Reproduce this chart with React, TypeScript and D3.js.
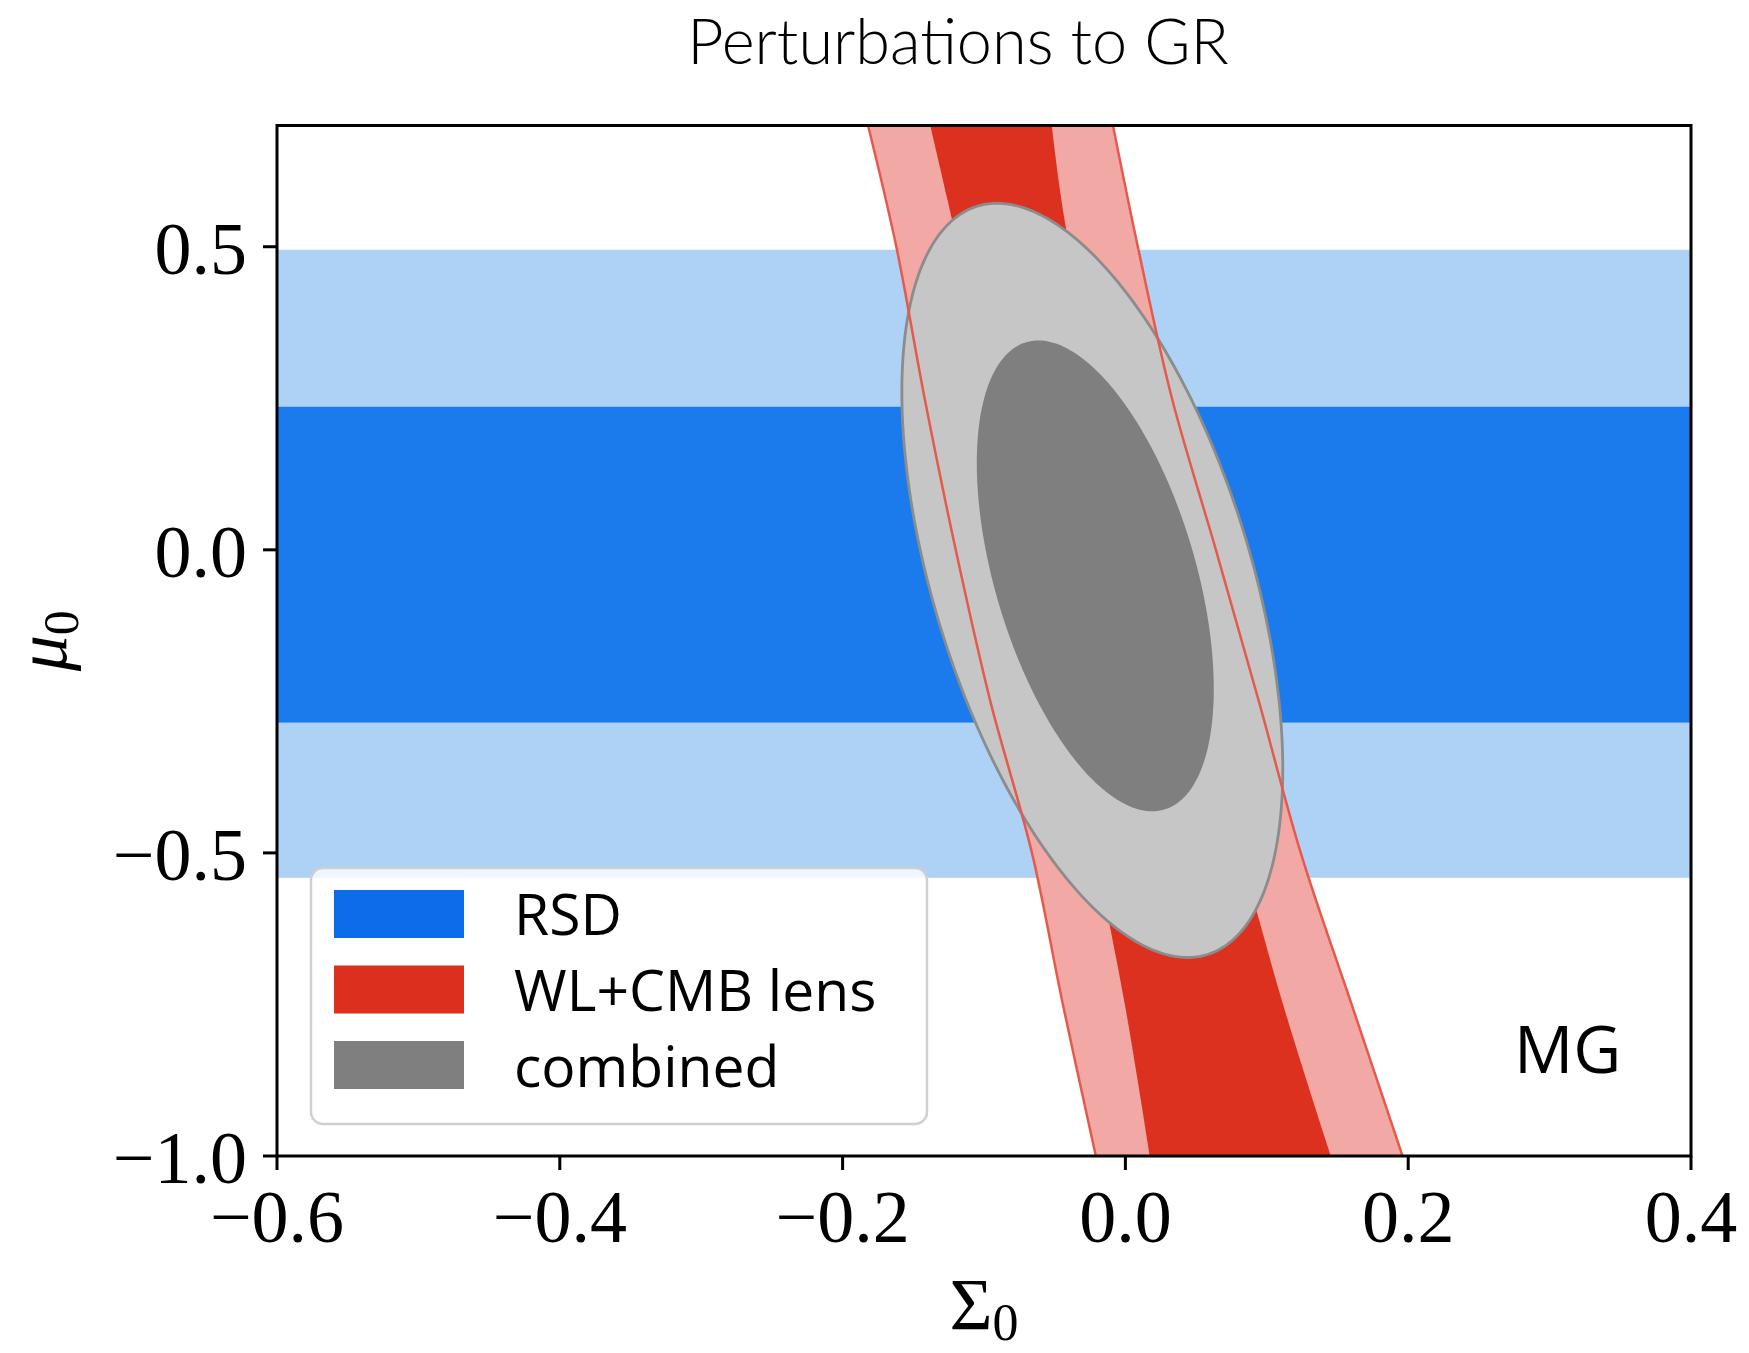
import React from "react";
import * as d3 from "d3";

const W = 1749;
const H = 1353;

// Axis ticks
const xTicks = [-0.6, -0.4, -0.2, 0.0, 0.2, 0.4];
const yTicks = [-1.0, -0.5, 0.0, 0.5];

// RSD constraint on mu0 (flat in Sigma0): 68% and 95% intervals
const rsdInner = [-0.285, 0.236];
const rsdOuter = [-0.541, 0.495];

// WL+CMB lens contours: Sigma0 of each contour edge at given mu0 levels
const lensMu = [0.7, 0.5, 0.25, 0.0, -0.25, -0.5, -0.75, -1.0];
const lensOuterLeft = [-0.182, -0.162, -0.142, -0.12, -0.0955, -0.0661, -0.0442, -0.0209];
const lensOuterRight = [-0.0088, 0.0088, 0.0329, 0.064, 0.0944, 0.124, 0.16, 0.196];
const lensInnerLeft = [-0.138, -0.118, -0.093, -0.0696, -0.0456, -0.0216, -0.0004, 0.0173];
const lensInnerRight = [-0.052, -0.0393, -0.0081, 0.0216, 0.0513, 0.0815, 0.1115, 0.1453];

// Combined constraint: Gaussian contours (centre, widths, correlation)
const combOuter = { cx: -0.0234, cy: -0.0504, sx: 0.1347, sy: 0.6221, rho: -0.5 };
const combInner = { cx: -0.0213, cy: -0.043, sx: 0.0838, sy: 0.3883, rho: -0.48 };

const legendItems = [
  { label: "RSD", color: "#0b6dea" },
  { label: "WL+CMB lens", color: "#dc2f1d" },
  { label: "combined", color: "#7f7f7f" },
];

const C = {
  blueLight: "#aed1f6",
  blueDark: "#1c7bec",
  pink: "#f2a8a4",
  redDark: "#dd311f",
  redLine: "#e45a4c",
  grayLight: "#c6c6c6",
  grayEdge: "#8c8c8c",
  grayDark: "#7f7f7f",
};

const fmt = (v: number) => (v < 0 ? "\u2212" : "") + Math.abs(v).toFixed(1);

function ellipsePoints(e: { cx: number; cy: number; sx: number; sy: number; rho: number }) {
  const n = 240;
  const k = Math.sqrt(1 - e.rho * e.rho);
  return d3.range(n).map((i) => {
    const t = (2 * Math.PI * i) / n;
    return [e.cx + e.sx * Math.cos(t), e.cy + e.sy * (e.rho * Math.cos(t) + k * Math.sin(t))] as [number, number];
  });
}

export default function App() {
  const left = 277;
  const right = 1691;
  const top = 125.5;
  const bottom = 1156;
  const x = d3.scaleLinear().domain([-0.6, 0.4]).range([left, right]);
  const y = d3.scaleLinear().domain([-1.0, 0.7]).range([bottom, top]);

  const idx = d3.range(lensMu.length);
  const bandArea = (l: number[], r: number[]) =>
    d3
      .area<number>()
      .curve(d3.curveCatmullRom.alpha(0.5))
      .y((i) => y(lensMu[i]))
      .x0((i) => x(l[i]))
      .x1((i) => x(r[i]))(idx) || "";
  const edgeLine = (l: number[]) =>
    d3
      .line<number>()
      .curve(d3.curveCatmullRom.alpha(0.5))
      .x((i) => x(l[i]))
      .y((i) => y(lensMu[i]))(idx) || "";
  const ellipsePath = (e: typeof combOuter) =>
    d3
      .line<[number, number]>()
      .curve(d3.curveLinearClosed)
      .x((d) => x(d[0]))
      .y((d) => y(d[1]))(ellipsePoints(e)) || "";

  const serif = "'Liberation Serif', 'Times New Roman', serif";
  const sans = "'Open Sans', 'Noto Sans', sans-serif";

  return (
    <svg
      width={W}
      height={H}
      viewBox={`0 0 ${W} ${H}`}
      style={{ position: "absolute", left: 0, top: 0, background: "#fff" }}
    >
      <defs>
        <clipPath id="plot-clip">
          <rect x={left} y={top} width={right - left} height={bottom - top} />
        </clipPath>
      </defs>

      <text x={958} y={64} textAnchor="middle" fontFamily="Lato, sans-serif" fontWeight={300} fontSize={63} fill="#000">
        Perturbations to GR
      </text>

      <g clipPath="url(#plot-clip)">
        <rect x={left} y={top} width={right - left} height={bottom - top} fill="#fff" />
        {/* RSD bands */}
        <rect
          x={left}
          width={right - left}
          y={y(rsdOuter[1])}
          height={y(rsdOuter[0]) - y(rsdOuter[1])}
          fill={C.blueLight}
        />
        <rect
          x={left}
          width={right - left}
          y={y(rsdInner[1])}
          height={y(rsdInner[0]) - y(rsdInner[1])}
          fill={C.blueDark}
        />
        {/* WL+CMB lens band */}
        <path d={bandArea(lensOuterLeft, lensOuterRight)} fill={C.pink} />
        <path d={bandArea(lensInnerLeft, lensInnerRight)} fill={C.redDark} />
        {/* combined */}
        <path d={ellipsePath(combOuter)} fill={C.grayLight} stroke={C.grayEdge} strokeWidth={2.8} />
        <path d={ellipsePath(combInner)} fill={C.grayDark} />
        {/* lens outer contour lines */}
        <path d={edgeLine(lensOuterLeft)} fill="none" stroke={C.redLine} strokeWidth={2.5} />
        <path d={edgeLine(lensOuterRight)} fill="none" stroke={C.redLine} strokeWidth={2.5} />

        {/* legend */}
        <rect x={311} y={868} width={616} height={256} rx={12} fill="#fff" fillOpacity={0.8} stroke="#cfcfcf" strokeWidth={2.5} />
        {legendItems.map((it, i) => (
          <g key={it.label}>
            <rect x={334} y={890 + i * 75.5} width={130} height={48} fill={it.color} />
            <text x={514} y={935 + i * 76} fontFamily={sans} fontSize={57} fill="#000">
              {it.label}
            </text>
          </g>
        ))}

        <text x={1514} y={1073} fontFamily={sans} fontSize={66} fill="#000">
          MG
        </text>
      </g>

      {/* frame */}
      <rect x={left} y={top} width={right - left} height={bottom - top} fill="none" stroke="#000" strokeWidth={3} />

      {/* x ticks */}
      {xTicks.map((t) => (
        <g key={"x" + t}>
          <line x1={x(t)} x2={x(t)} y1={bottom} y2={bottom + 14} stroke="#000" strokeWidth={3} />
          <text x={x(t)} y={1242} textAnchor="middle" fontFamily={serif} fontSize={74} fill="#000">
            {fmt(t)}
          </text>
        </g>
      ))}
      {/* y ticks */}
      {yTicks.map((t) => (
        <g key={"y" + t}>
          <line x1={left - 14} x2={left} y1={y(t)} y2={y(t)} stroke="#000" strokeWidth={3} />
          <text x={247} y={y(t) + 27} textAnchor="end" fontFamily={serif} fontSize={74} fill="#000">
            {fmt(t)}
          </text>
        </g>
      ))}

      {/* axis labels */}
      <text x={(left + right) / 2} y={1330} textAnchor="middle" fontFamily={serif} fontSize={74} fill="#000">
        {"\u03A3"}
        <tspan fontSize={52} dy={10}>0</tspan>
      </text>
      <text
        transform={`translate(66, ${(top + bottom) / 2}) rotate(-90)`}
        textAnchor="middle"
        fontFamily={serif}
        fontSize={72}
        fill="#000"
      >
        <tspan fontStyle="italic">{"\u03BC"}</tspan>
        <tspan fontSize={50} dy={12}>0</tspan>
      </text>
    </svg>
  );
}
